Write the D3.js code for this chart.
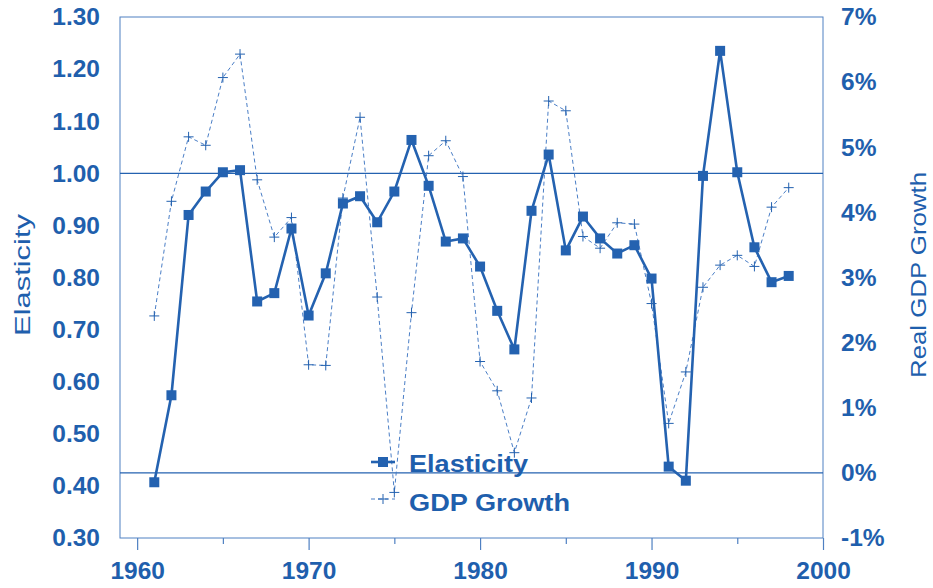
<!DOCTYPE html>
<html>
<head>
<meta charset="utf-8">
<script src="https://cdn.jsdelivr.net/npm/d3@7"></script>
<style>
  body { margin: 0; background: #fff; }
  svg { display: block; font-family: "Liberation Sans", Arial, sans-serif; }
</style>
</head>
<body>
<div id="chart"></div>
<script>
// values
const years = [1961, 1962, 1963, 1964, 1965, 1966, 1967, 1968, 1969, 1970,
  1971, 1972, 1973, 1974, 1975, 1976, 1977, 1978, 1979, 1980,
  1981, 1982, 1983, 1984, 1985, 1986, 1987, 1988, 1989, 1990,
  1991, 1992, 1993, 1994, 1995, 1996, 1997, 1998];
const elasticity = [0.407, 0.574, 0.92, 0.965, 1.002, 1.006, 0.754, 0.77, 0.894, 0.727,
  0.808, 0.942, 0.956, 0.906, 0.965, 1.064, 0.976, 0.869, 0.875, 0.821,
  0.736, 0.662, 0.928, 1.036, 0.852, 0.917, 0.875, 0.846, 0.862, 0.798,
  0.437, 0.41, 0.995, 1.235, 1.002, 0.858, 0.791, 0.803];
const gdpGrowth = [2.41, 4.17, 5.16, 5.03, 6.07, 6.43, 4.5, 3.62, 3.92, 1.66,
  1.65, 4.22, 5.46, 2.7, -0.3, 2.46, 4.87, 5.1, 4.55, 1.71,
  1.26, 0.31, 1.15, 5.71, 5.56, 3.63, 3.45, 3.84, 3.82, 2.6,
  0.76, 1.55, 2.85, 3.19, 3.34, 3.17, 4.08, 4.38];
const xMajorTicks = [1960, 1970, 1980, 1990, 2000];
const xMinorTicks = [1965, 1975, 1985, 1995];
const leftTicks = [0.3, 0.4, 0.5, 0.6, 0.7, 0.8, 0.9, 1.0, 1.1, 1.2, 1.3];
const rightTicks = [-1, 0, 1, 2, 3, 4, 5, 6, 7];
const refElasticity = 1.0;
const refGrowth = 0;

const width = 933, height = 588;
const plot = { left: 120, right: 823, top: 17, bottom: 538 };
const textColor = "#1f5fad";
const lineColor = "#2462b0";
const frameColor = "#4f80c2";
const fontSize = "24.5px";

const x = d3.scaleLinear().domain([1959, 2000]).range([plot.left, plot.right]);
const yE = d3.scaleLinear().domain([0.3, 1.3]).range([plot.bottom, plot.top]);
const yG = d3.scaleLinear().domain([-1, 7]).range([plot.bottom, plot.top]);

const svg = d3.select("#chart").append("svg")
  .attr("width", width)
  .attr("height", height);

// frame
svg.append("rect")
  .attr("x", plot.left).attr("y", plot.top)
  .attr("width", plot.right - plot.left).attr("height", plot.bottom - plot.top)
  .attr("fill", "none").attr("stroke", frameColor).attr("stroke-width", 1);

// reference lines
svg.append("line")
  .attr("x1", plot.left).attr("x2", plot.right)
  .attr("y1", yE(refElasticity)).attr("y2", yE(refElasticity))
  .attr("stroke", lineColor).attr("stroke-width", 1.2);
svg.append("line")
  .attr("x1", plot.left).attr("x2", plot.right)
  .attr("y1", yG(refGrowth)).attr("y2", yG(refGrowth))
  .attr("stroke", lineColor).attr("stroke-width", 1.2);

// axes
const styleAxis = g => {
  g.select(".domain").remove();
  g.selectAll(".tick line").attr("stroke", frameColor).attr("stroke-width", 1.2);
  g.selectAll(".tick text")
    .attr("fill", textColor)
    .style("font-size", fontSize)
    .style("font-weight", "bold");
};

svg.append("g")
  .attr("transform", `translate(0,${plot.bottom})`)
  .call(d3.axisBottom(x).tickValues(xMajorTicks).tickSize(12).tickPadding(12).tickFormat(d3.format("d")))
  .call(styleAxis);

svg.append("g")
  .attr("transform", `translate(0,${plot.bottom})`)
  .call(d3.axisBottom(x).tickValues(xMinorTicks).tickSize(6).tickFormat(""))
  .call(styleAxis);

svg.append("g")
  .attr("transform", `translate(${plot.left},0)`)
  .call(d3.axisLeft(yE).tickValues(leftTicks).tickSize(0).tickPadding(20).tickFormat(d3.format(".2f")))
  .call(styleAxis);

svg.append("g")
  .attr("transform", `translate(${plot.right},0)`)
  .call(d3.axisRight(yG).tickValues(rightTicks).tickSize(0).tickPadding(18).tickFormat(d => d + "%"))
  .call(styleAxis);

// axis titles (stretched lengthwise like the original)
svg.append("text")
  .attr("transform", `translate(30,275) rotate(-90)`)
  .attr("text-anchor", "middle")
  .attr("fill", textColor)
  .style("font-size", "22px")
  .attr("textLength", 122)
  .attr("lengthAdjust", "spacingAndGlyphs")
  .text("Elasticity");

svg.append("text")
  .attr("transform", `translate(926,275) rotate(-90)`)
  .attr("text-anchor", "middle")
  .attr("fill", textColor)
  .style("font-size", "22px")
  .attr("textLength", 206)
  .attr("lengthAdjust", "spacingAndGlyphs")
  .text("Real GDP Growth");

// GDP growth (dashed, plus markers)
const gdpData = years.map((yr, i) => ({ yr, v: gdpGrowth[i] }));
svg.append("path")
  .datum(gdpData)
  .attr("fill", "none")
  .attr("stroke", "#4a7ec6")
  .attr("stroke-width", 1)
  .attr("stroke-dasharray", "4,3")
  .attr("d", d3.line().x(d => x(d.yr)).y(d => yG(d.v)));

const plusPath = (s) => `M${-s},0H${s}M0,${-s}V${s}`;

svg.append("g").selectAll("path")
  .data(gdpData)
  .join("path")
  .attr("transform", d => `translate(${x(d.yr)},${yG(d.v)})`)
  .attr("d", plusPath(5))
  .attr("stroke", lineColor)
  .attr("stroke-width", 1)
  .attr("fill", "none");

// elasticity (solid, square markers)
const elData = years.map((yr, i) => ({ yr, v: elasticity[i] }));
svg.append("path")
  .datum(elData)
  .attr("fill", "none")
  .attr("stroke", lineColor)
  .attr("stroke-width", 2.6)
  .attr("d", d3.line().x(d => x(d.yr)).y(d => yE(d.v)));

svg.append("g").selectAll("rect")
  .data(elData)
  .join("rect")
  .attr("x", d => x(d.yr) - 5)
  .attr("y", d => yE(d.v) - 5)
  .attr("width", 10)
  .attr("height", 10)
  .attr("fill", lineColor);

// legend
const legend = svg.append("g").attr("transform", "translate(371,0)");
legend.append("line")
  .attr("x1", 0).attr("x2", 24).attr("y1", 462).attr("y2", 462)
  .attr("stroke", lineColor).attr("stroke-width", 2.6);
legend.append("rect")
  .attr("x", 7).attr("y", 457).attr("width", 10).attr("height", 10)
  .attr("fill", lineColor);
legend.append("text")
  .attr("x", 38).attr("y", 472)
  .attr("fill", textColor)
  .style("font-size", fontSize).style("font-weight", "bold")
  .attr("textLength", 119)
  .attr("lengthAdjust", "spacingAndGlyphs")
  .text("Elasticity");

legend.append("line")
  .attr("x1", 0).attr("x2", 24).attr("y1", 499).attr("y2", 499)
  .attr("stroke", "#4a7ec6").attr("stroke-width", 1).attr("stroke-dasharray", "4,3");
legend.append("path")
  .attr("transform", "translate(12,499)")
  .attr("d", plusPath(5))
  .attr("stroke", lineColor).attr("stroke-width", 1);
legend.append("text")
  .attr("x", 38).attr("y", 511)
  .attr("fill", textColor)
  .style("font-size", fontSize).style("font-weight", "bold")
  .attr("textLength", 161)
  .attr("lengthAdjust", "spacingAndGlyphs")
  .text("GDP Growth");
</script>
</body>
</html>
